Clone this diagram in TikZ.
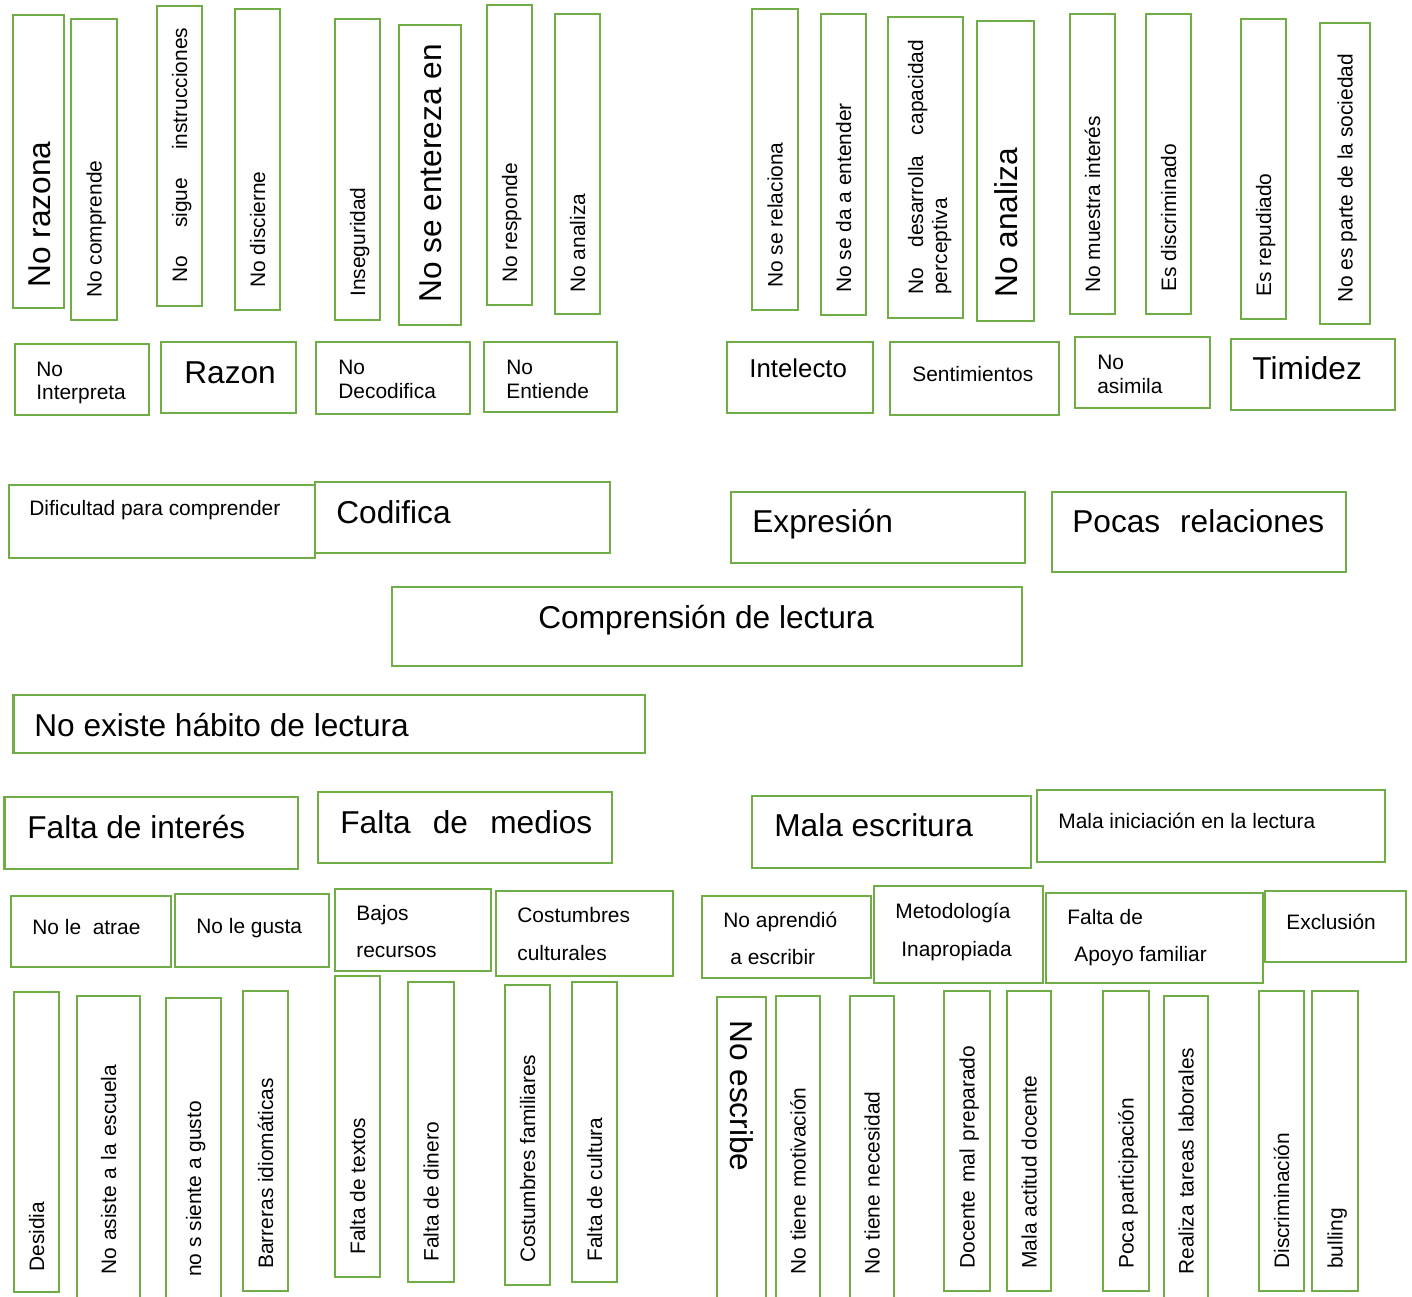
\documentclass[tikz,border=0pt]{standalone}
\usepackage{fontspec}
\setmainfont{Liberation Sans}
\usetikzlibrary{positioning}
\definecolor{verde}{HTML}{70AD47}
\newcommand{\txtsm}{\fontsize{11.9}{14}\selectfont}
\newcommand{\txtmid}{\fontsize{14.7}{17}\selectfont}
\newcommand{\txtbig}{\fontsize{18}{21}\selectfont}
\tikzset{
    % Green frame
    cuadro/.style={draw=verde,line width=1.6pt},
    % Horizontal label
    htext/.style={anchor=base west,inner sep=0pt,font=\txtsm},
    % Vertical label, read upwards
    vtext/.style={rotate=90,anchor=base west,inner sep=0pt,font=\txtsm},
    % Vertical label, read downwards
    vdown/.style={rotate=-90,anchor=base west,inner sep=0pt,font=\txtsm},
    % Larger letters
    grande/.style={font=\txtbig},
    medio/.style={font=\txtmid}
}

\begin{document}
\begin{tikzpicture}[x=0.02cm,y=-0.02cm]
    \useasboundingbox (0,0) rectangle (1412,1297);

    % Top left: vertical boxes
    \draw[cuadro] (13,15) rectangle (64,308);
    \node[vtext,grande] (razona) at (50,288) {No razona};
    \draw[cuadro] (71,19) rectangle (117,320);
    \node[vtext] (comprende) at (101.5,298) {No comprende};
    \draw[cuadro] (157,6) rectangle (202,306);
    \node[vtext] (sigue) at (187,283) {\makebox[5.1cm][s]{No sigue instrucciones}};
    \draw[cuadro] (235,9) rectangle (280,310);
    \node[vtext] (discierne) at (265,288) {No discierne};
    \draw[cuadro] (335,19) rectangle (380,320);
    \node[vtext] (inseguridad) at (365,297) {Inseguridad};
    \draw[cuadro] (399,25) rectangle (461,325);
    \node[vtext,grande] (entereza) at (441.5,303) {No se entereza en};
    \draw[cuadro] (487,5) rectangle (532,305);
    \node[vtext] (responde) at (517,283) {No responde};
    \draw[cuadro] (555,14) rectangle (600,314);
    \node[vtext] (analizaA) at (585,293) {No analiza};

    % Top left: horizontal boxes
    \draw[cuadro] (15,344) rectangle (149,415);
    \node[htext] (interpretaA) at (36,376) {No};
    \node[htext] (interpretaB) at (36,399) {Interpreta};
    \draw[cuadro] (161,342) rectangle (296,413);
    \node[htext,grande] (razon) at (184,383) {Razon};
    \draw[cuadro] (316,342) rectangle (470,414);
    \node[htext] (decodificaA) at (338,374) {No};
    \node[htext] (decodificaB) at (338,398) {Decodifica};
    \draw[cuadro] (484,342) rectangle (617,412);
    \node[htext] (entiendeA) at (506,374) {No};
    \node[htext] (entiendeB) at (506,398) {Entiende};

    % Top right: vertical boxes
    \draw[cuadro] (752,9) rectangle (798,310);
    \node[vtext] (relaciona) at (782.5,288) {No se relaciona};
    \draw[cuadro] (821,14) rectangle (866,315);
    \node[vtext] (entender) at (851,293) {No se da a entender};
    \draw[cuadro] (888,17) rectangle (963,318);
    \node[vtext] (desarrollaA) at (923,295) {\makebox[5.1cm][s]{No desarrolla capacidad}};
    \node[vtext] (desarrollaB) at (947,295) {perceptiva};
    \draw[cuadro] (977,21) rectangle (1034,321);
    \node[vtext,grande] (analizaB) at (1017,298) {No analiza};
    \draw[cuadro] (1070,14) rectangle (1115,314);
    \node[vtext] (interes) at (1100,293) {No muestra interés};
    \draw[cuadro] (1146,14) rectangle (1191,314);
    \node[vtext] (discriminado) at (1176,292) {Es discriminado};
    \draw[cuadro] (1241,19) rectangle (1286,319);
    \node[vtext] (repudiado) at (1271,297) {Es repudiado};
    \draw[cuadro] (1320,23) rectangle (1370,324);
    \node[vtext] (sociedad) at (1352.5,303) {No es parte de la sociedad};

    % Top right: horizontal boxes
    \draw[cuadro] (727,342) rectangle (873,413);
    \node[htext,medio] (intelecto) at (749,377) {Intelecto};
    \draw[cuadro] (890,342) rectangle (1059,415);
    \node[htext] (sentimientos) at (912,381) {Sentimientos};
    \draw[cuadro] (1075,337) rectangle (1210,408);
    \node[htext] (asimilaA) at (1097,369) {No};
    \node[htext] (asimilaB) at (1097,393) {asimila};
    \draw[cuadro] (1231,339) rectangle (1395,410);
    \node[htext,grande] (timidez) at (1252,379) {Timidez};

    % Middle row
    \draw[cuadro] (9,485) rectangle (315,558);
    \node[htext] (dificultad) at (29,515) {Dificultad para comprender};
    \draw[cuadro] (315,482) rectangle (610,553);
    \node[htext,grande] (codifica) at (336,523) {Codifica};
    \draw[cuadro] (731,492) rectangle (1025,563);
    \node[htext,grande] (expresion) at (752,532) {Expresión};
    \draw[cuadro] (1052,492) rectangle (1346,572);
    \node[htext,grande] (pocas) at (1072,532) {\makebox[5.04cm][s]{Pocas relaciones}};

    % Central problem
    \draw[cuadro] (392,587) rectangle (1022,666);
    \node[htext,grande] (comprension) at (538,628) {Comprensión de lectura};
    \draw[cuadro] (13.5,695) rectangle (645,753);
    \node[htext,grande] (habito) at (34,736) {No existe hábito de lectura};

    % Bottom left: horizontal boxes
    \draw[cuadro] (4.5,797) rectangle (298,869);
    \node[htext,grande] (faltainteres) at (27,838) {Falta de interés};
    \draw[cuadro] (318,792) rectangle (612,863);
    \node[htext,grande] (medios) at (340,833) {\makebox[5.04cm][s]{Falta de medios}};
    \draw[cuadro] (11,896) rectangle (171,967);
    \node[htext] (atrae) at (32,934) {No le\ \ atrae};
    \draw[cuadro] (175,894) rectangle (329,967);
    \node[htext] (gusta) at (196,933) {No le gusta};
    \draw[cuadro] (335,889) rectangle (491,971);
    \node[htext] (bajosA) at (356,920) {Bajos};
    \node[htext] (bajosB) at (356,957) {recursos};
    \draw[cuadro] (496,891) rectangle (673,976);
    \node[htext] (costumbresA) at (517,922) {Costumbres};
    \node[htext] (costumbresB) at (517,960) {culturales};

    % Bottom left: vertical boxes
    \draw[cuadro] (14,992) rectangle (59,1292);
    \node[vtext] (desidia) at (44,1272) {Desidia};
    \draw[cuadro] (77,996) rectangle (140,1302);
    \node[vtext] (asiste) at (116,1275) {\makebox[4.2cm][s]{No asiste a la escuela}};
    \draw[cuadro] (166,998) rectangle (221,1302);
    \node[vtext] (siente) at (201,1277) {no s siente a gusto};
    \draw[cuadro] (243,991) rectangle (288,1291);
    \node[vtext] (barreras) at (273,1269) {Barreras idiomáticas};
    \draw[cuadro] (335,976) rectangle (380,1277);
    \node[vtext] (textos) at (365,1255) {Falta de textos};
    \draw[cuadro] (408,982) rectangle (454,1282);
    \node[vtext] (dinero) at (438.5,1262) {Falta de dinero};
    \draw[cuadro] (505,985) rectangle (550,1285);
    \node[vtext] (familiares) at (535,1263) {Costumbres familiares};
    \draw[cuadro] (572,982) rectangle (617,1282);
    \node[vtext] (cultura) at (602,1262) {Falta de cultura};

    % Bottom right: horizontal boxes
    \draw[cuadro] (752,796) rectangle (1031,868);
    \node[htext,grande] (escritura) at (774,836) {Mala escritura};
    \draw[cuadro] (1037,790) rectangle (1385,862);
    \node[htext] (iniciacion) at (1058,828) {Mala iniciación en la lectura};
    \draw[cuadro] (702,896) rectangle (871,978);
    \node[htext] (aprendioA) at (723,927) {No aprendió};
    \node[htext] (aprendioB) at (730,964) {a escribir};
    \draw[cuadro] (874,886) rectangle (1043,983);
    \node[htext] (metodoA) at (895,918) {Metodología};
    \node[htext] (metodoB) at (901,956) {Inapropiada};
    \draw[cuadro] (1046,893) rectangle (1263,983);
    \node[htext] (apoyoA) at (1067,924) {Falta de};
    \node[htext] (apoyoB) at (1074,961) {Apoyo familiar};
    \draw[cuadro] (1265,891) rectangle (1406,962);
    \node[htext] (exclusion) at (1286,929) {Exclusión};

    % Bottom right: vertical boxes
    \draw[cuadro] (717,997) rectangle (766,1302);
    \node[vdown,grande] (escribe) at (730,1020) {No escribe};
    \draw[cuadro] (776,996) rectangle (820,1302);
    \node[vtext] (motivacion) at (805.5,1275) {\makebox[3.74cm][s]{No tiene motivación}};
    \draw[cuadro] (850,996) rectangle (894,1302);
    \node[vtext] (necesidad) at (879.5,1275) {\makebox[3.66cm][s]{No tiene necesidad}};
    \draw[cuadro] (944,991) rectangle (990,1291);
    \node[vtext] (preparado) at (974.5,1269) {\makebox[4.46cm][s]{Docente mal preparado}};
    \draw[cuadro] (1007,991) rectangle (1051,1291);
    \node[vtext] (actitud) at (1036.5,1269) {Mala actitud docente};
    \draw[cuadro] (1103,991) rectangle (1149,1291);
    \node[vtext] (participacion) at (1133.5,1269) {Poca participación};
    \draw[cuadro] (1164,996) rectangle (1208,1302);
    \node[vtext] (tareas) at (1193.5,1275) {\makebox[4.54cm][s]{Realiza tareas laborales}};
    \draw[cuadro] (1259,991) rectangle (1304,1291);
    \node[vtext] (discriminacion) at (1289,1269) {Discriminación};
    \draw[cuadro] (1312,991) rectangle (1358,1291);
    \node[vtext] (bulling) at (1342.5,1269) {bulling};
\end{tikzpicture}
\end{document}
